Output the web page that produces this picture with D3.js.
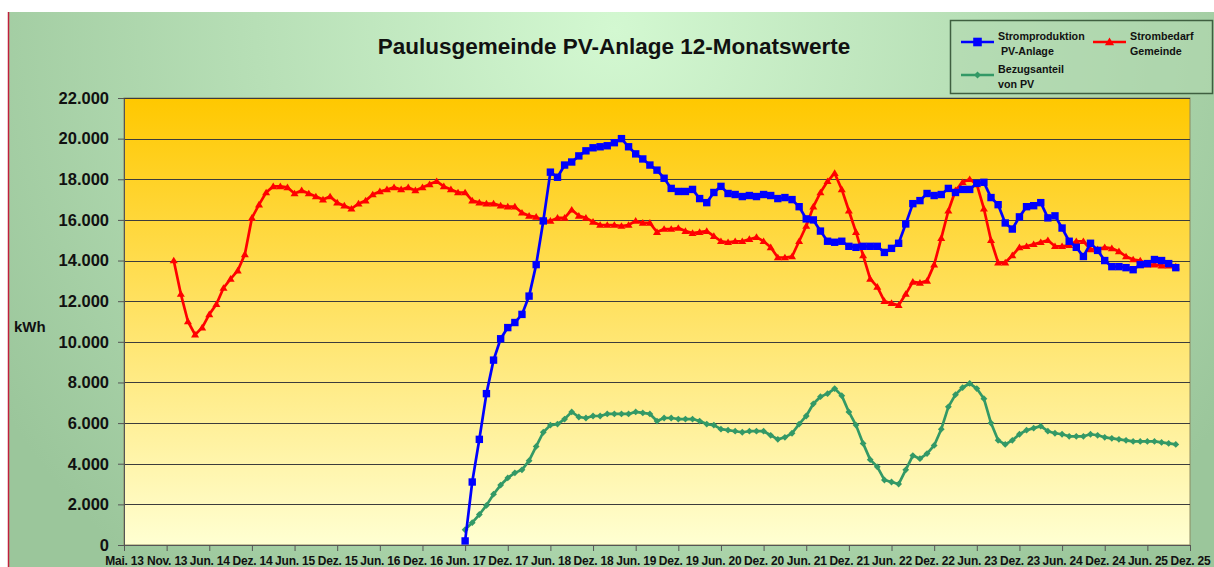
<!DOCTYPE html>
<html>
<head>
<meta charset="utf-8">
<script src="https://cdn.jsdelivr.net/npm/d3@7"></script>
<style>
	body { margin: 0; background: #fff; }
	text { font-family: "Liberation Sans", Arial, sans-serif; font-weight: bold; fill: #111; }
</style>
</head>
<body>
<svg id="chart" width="1214" height="567"></svg>
<script>
'use strict';

// Tick labels of the category axis, one every 6 months
var tick_labels = ['Mai. 13', 'Nov. 13', 'Jun. 14', 'Dez. 14', 'Jun. 15', 'Dez. 15', 'Jun. 16', 'Dez. 16',
	'Jun. 17', 'Dez. 17', 'Jun. 18', 'Dez. 18', 'Jun. 19', 'Dez. 19', 'Jun. 20', 'Dez. 20', 'Jun. 21',
	'Dez. 21', 'Jun. 22', 'Dez. 22', 'Jun. 23', 'Dez. 23', 'Jun. 24', 'Dez. 24', 'Jun. 25', 'Dez. 25'];
var months_per_tick = 6;
var month_count = 150;

var y_ticks = [0, 2000, 4000, 6000, 8000, 10000, 12000, 14000, 16000, 18000, 20000, 22000];

// Strombedarf Gemeinde (12-month values), first value at month 7
var bedarf_start = 7;
var bedarf = [14000, 12350, 11000, 10350, 10700, 11350, 11850, 12650, 13100, 13500, 14300, 16100, 16750,
	17350, 17650, 17650, 17600, 17300, 17450, 17300, 17150, 17000, 17150, 16850, 16700, 16550, 16800, 16950,
	17250, 17400, 17500, 17600, 17500, 17600, 17450, 17600, 17750, 17900, 17650, 17500, 17350, 17350, 16950,
	16850, 16800,
	16800, 16700, 16650, 16650, 16350, 16200, 16150, 15950, 15950, 16100, 16100, 16500, 16200, 16100, 15900,
	15750, 15750, 15750, 15700, 15750, 15950, 15850, 15850, 15400, 15550, 15550, 15600, 15450, 15350, 15400,
	15450, 15200, 14950, 14900, 14950, 14950, 15050, 15150, 14950, 14650, 14150, 14150, 14200, 14950,
	15700, 16650, 17350, 17900, 18300, 17500, 16450, 15400, 14250, 13100, 12700, 12000, 11900, 11800, 12350,
	12950, 12900, 13000, 13800, 15100, 16450, 17450, 17850, 18000, 17750, 16550, 15000, 13900, 13900, 14250,
	14650, 14700, 14800, 14900, 15000, 14700, 14700, 14750, 14950, 14950, 14550, 14550, 14650, 14600, 14450,
	14200, 14050, 14000, 13800, 13800, 13750, 13750, 13700];

// Stromproduktion PV-Anlage, first value at month 48
var produktion_start = 48;
var produktion = [200, 3100, 5200, 7450, 9100, 10150, 10700, 10950, 11350, 12250, 13800, 15950, 18350,
	18100, 18700, 18850, 19150, 19400, 19550, 19600, 19650, 19800, 20000, 19600, 19250, 19000, 18700, 18450,
	18050, 17550, 17400, 17400, 17500, 17050, 16850, 17350, 17650, 17300, 17250, 17150, 17200, 17150, 17250,
	17200, 17050, 17100, 17000, 16650, 16050, 16000, 15450, 14950, 14900, 14950, 14700, 14650, 14700, 14700,
	14700, 14400, 14600, 14850, 15800, 16800, 16950, 17300, 17200, 17250, 17550, 17350, 17500, 17500, 17800,
	17850, 17100, 16750, 15850, 15550, 16150, 16650, 16700, 16850, 16100, 16200, 15600, 14950, 14650, 14200,
	14850, 14500, 14000, 13700, 13700, 13650, 13550, 13800, 13850, 14050, 14000, 13850, 13650];

// Bezugsanteil von PV, same months as the production
var bezug = [750, 1100, 1500, 1950, 2500, 2950, 3300, 3550, 3700, 4150, 4850, 5550, 5900, 5950, 6200,
	6550, 6300, 6250, 6350, 6350, 6450, 6450, 6450, 6450, 6550, 6500, 6450, 6100, 6250, 6250, 6200, 6200,
	6200, 6100, 5950, 5900, 5700, 5650, 5600, 5550, 5600, 5600, 5600, 5400, 5200, 5300, 5500, 5950, 6350,
	6950, 7300, 7450, 7700, 7350, 6550, 5900, 5000, 4200, 3850, 3200, 3100, 3000, 3700, 4400, 4250, 4500,
	4900, 5700, 6800, 7400, 7750, 7950, 7700, 7200, 6000, 5150, 4950, 5150, 5450, 5650, 5750, 5850, 5600,
	5500, 5450, 5350, 5350, 5350, 5450, 5400, 5300, 5250, 5200, 5150, 5100, 5100, 5100, 5100, 5050, 5000, 4950];

var svg = d3.select('#chart');
var defs = svg.append('defs');

var bg = defs.append('radialGradient').attr('id', 'bgGrad')
	.attr('gradientUnits', 'userSpaceOnUse')
	.attr('cx', 615).attr('cy', 30).attr('r', 720);
bg.append('stop').attr('offset', 0).attr('stop-color', '#d3f8d1');
bg.append('stop').attr('offset', 1).attr('stop-color', '#9bc69b');

var plotGrad = defs.append('linearGradient').attr('id', 'plotGrad')
	.attr('x1', 0).attr('y1', 0).attr('x2', 0).attr('y2', 1);
plotGrad.append('stop').attr('offset', 0).attr('stop-color', '#ffc800');
plotGrad.append('stop').attr('offset', 1).attr('stop-color', '#ffffd2');

// Chart background and frame
svg.append('rect').attr('x', 8).attr('y', 12).attr('width', 1206).attr('height', 555).attr('fill', 'url(#bgGrad)');
svg.append('line').attr('x1', 8.5).attr('x2', 8.5).attr('y1', 12).attr('y2', 567)
	.attr('stroke', '#c0203c').attr('stroke-width', 1.5);

var x_scale = d3.scaleLinear().domain([0, month_count]).range([124, 1190]);
var y_scale = d3.scaleLinear().domain([0, 22000]).range([545, 98]);

svg.append('rect')
	.attr('x', x_scale(0)).attr('y', y_scale(22000))
	.attr('width', x_scale(month_count) - x_scale(0))
	.attr('height', y_scale(0) - y_scale(22000))
	.attr('fill', 'url(#plotGrad)')
	.attr('stroke', '#8c8a62').attr('stroke-width', 1);

// Horizontal gridlines
svg.selectAll('line.grid')
	.data(y_ticks.slice(1))
	.enter().append('line')
	.attr('class', 'grid')
	.attr('x1', x_scale(0)).attr('x2', x_scale(month_count))
	.attr('y1', function(d) { return Math.round(y_scale(d)) + 0.5; })
	.attr('y2', function(d) { return Math.round(y_scale(d)) + 0.5; })
	.attr('stroke', '#3c3c3c').attr('stroke-width', 1);

// Axes
var de = d3.formatLocale({ decimal: ',', thousands: '.', grouping: [3], currency: ['', ' €'] });
var fmt = de.format(',');

var y_axis = svg.append('g')
	.attr('transform', 'translate(' + x_scale(0) + ',0)')
	.call(d3.axisLeft(y_scale).tickValues(y_ticks).tickFormat(fmt).tickSize(6).tickSizeOuter(0).tickPadding(9));
y_axis.selectAll('text').style('font-size', '16.5px');

var x_axis = svg.append('g')
	.attr('transform', 'translate(0,' + y_scale(0) + ')')
	.call(d3.axisBottom(x_scale)
		.tickValues(d3.range(0, month_count + 1, months_per_tick))
		.tickFormat(function(d, i) { return tick_labels[i]; })
		.tickSize(6).tickSizeOuter(0).tickPadding(5));
x_axis.selectAll('text').style('font-size', '12px').style('letter-spacing', '-0.2px');

svg.selectAll('.domain, .tick line').attr('stroke', '#555');

svg.append('text').attr('x', 14).attr('y', 332).style('font-size', '15px').text('kWh');

// Title
svg.append('text').attr('x', 614).attr('y', 54).attr('text-anchor', 'middle')
	.style('font-size', '22.5px').text('Paulusgemeinde PV-Anlage 12-Monatswerte');

// Marker shapes
function markerPath(kind, s) {
	if (kind === 'square') return 'M' + (-s) + ',' + (-s) + 'H' + s + 'V' + s + 'H' + (-s) + 'Z';
	if (kind === 'triangle') return 'M0,' + (-s * 1.1) + 'L' + (s * 1.15) + ',' + (s * 0.8) + 'L' + (-s * 1.15) + ',' + (s * 0.8) + 'Z';
	return 'M0,' + (-s) + 'L' + s + ',0L0,' + s + 'L' + (-s) + ',0Z';
}

function drawSeries(values, start, colour, kind, size) {
	var pts = values.map(function(v, i) { return { m: start + i, v: v }; });
	var line = d3.line()
		.x(function(d) { return x_scale(d.m); })
		.y(function(d) { return y_scale(d.v); });
	var g = svg.append('g');
	g.append('path').datum(pts)
		.attr('d', line)
		.attr('fill', 'none')
		.attr('stroke', colour).attr('stroke-width', 2.7).attr('stroke-linejoin', 'round');
	g.selectAll('path.mk')
		.data(pts)
		.enter().append('path')
		.attr('class', 'mk')
		.attr('d', markerPath(kind, size))
		.attr('transform', function(d) { return 'translate(' + x_scale(d.m) + ',' + y_scale(d.v) + ')'; })
		.attr('fill', colour);
}

drawSeries(bedarf, bedarf_start, '#ff0000', 'triangle', 3.5);
drawSeries(bezug, produktion_start, '#339966', 'diamond', 3.4);
drawSeries(produktion, produktion_start, '#0000ff', 'square', 3.7);

// Legend
var legend = svg.append('g');
legend.append('rect').attr('x', 950.5).attr('y', 20.5).attr('width', 262).attr('height', 73)
	.attr('fill', '#b2d9b0').attr('fill-opacity', 0.6)
	.attr('stroke', '#3f5f40').attr('stroke-width', 1.5);

var legend_items = [
	{ label: ['Stromproduktion', ' PV-Anlage'], colour: '#0000ff', kind: 'square', x: 961, y: 42, size: 4.3 },
	{ label: ['Strombedarf', 'Gemeinde'], colour: '#ff0000', kind: 'triangle', x: 1093, y: 42, size: 4 },
	{ label: ['Bezugsanteil', 'von PV'], colour: '#339966', kind: 'diamond', x: 961, y: 75, size: 3.5 }
];
legend_items.forEach(function(item) {
	legend.append('line')
		.attr('x1', item.x).attr('x2', item.x + 33)
		.attr('y1', item.y).attr('y2', item.y)
		.attr('stroke', item.colour).attr('stroke-width', 2.5);
	legend.append('path')
		.attr('d', markerPath(item.kind, item.size))
		.attr('transform', 'translate(' + (item.x + 16.5) + ',' + item.y + ')')
		.attr('fill', item.colour);
	var t = legend.append('text')
		.attr('x', item.x + 37).attr('y', item.y - 2)
		.style('font-size', '10.7px');
	t.append('tspan').attr('x', item.x + 37).text(item.label[0]);
	t.append('tspan').attr('x', item.x + 37).attr('dy', 14.5).text(item.label[1]);
});
</script>
</body>
</html>
